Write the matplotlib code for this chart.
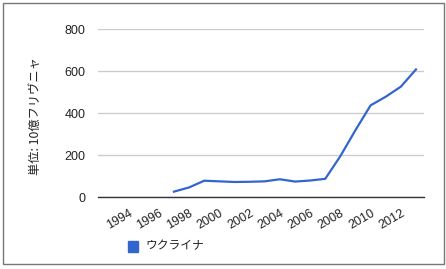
import matplotlib.pyplot as plt
from matplotlib.patches import Rectangle

plt.rcParams['font.family'] = ['Liberation Sans', 'Noto Sans CJK JP', 'DejaVu Sans']

years = [1997, 1998, 1999, 2000, 2001, 2002, 2003, 2004, 2005,
         2006, 2007, 2008, 2009, 2010, 2011, 2012, 2013]
values = [27, 47, 79, 76, 73, 74, 76, 86, 75,
          80, 88, 196, 320, 438, 479, 527, 609]
tick_years = [1994, 1996, 1998, 2000, 2002, 2004, 2006, 2008, 2010, 2012]
y_ticks = [0, 200, 400, 600, 800]
series_name = "ウクライナ"
y_title = "単位: 10億フリヴニャ"

fig = plt.figure(figsize=(4.46, 2.69), dpi=100)
ax = fig.add_axes([0.2204, 0.2665, 0.7303, 0.6245])

ax.plot(years, values, color='#3366cc', lw=1.6, solid_joinstyle='round')

ax.set_xlim(1992.0, 2013.53)
ax.set_ylim(0, 800)
ax.set_yticks(y_ticks)
ax.set_xticks(tick_years)
ax.set_xticklabels([str(y) for y in tick_years], rotation=30, ha='right', va='top',
                   rotation_mode='anchor')
ax.tick_params(axis='both', length=0, labelsize=9, colors='#222222')
ax.tick_params(axis='y', pad=9)
ax.tick_params(axis='x', pad=7)

ax.grid(axis='y', color='#cccccc', lw=1)
ax.set_axisbelow(True)
for s in ['top', 'right', 'left']:
    ax.spines[s].set_visible(False)
ax.spines['bottom'].set_color('#333333')
ax.spines['bottom'].set_linewidth(1)

fig.text(0.08, 0.57, y_title, rotation=90, ha='center', va='center',
         fontsize=8.8, color='#222222', style='italic',
         family=['Noto Sans CJK JP', 'DejaVu Sans'])

# legend
fig.patches.append(Rectangle((127.7 / 446, 1 - 251.7 / 269), 10.6 / 446, 11 / 269,
                             transform=fig.transFigure, color='#3366cc', figure=fig))
fig.text(145 / 446, 1 - 246 / 269, series_name, ha='left', va='center', fontsize=8.5,
         color='#222222', family=['Noto Sans CJK JP', 'DejaVu Sans'])

# outer frame
fig.patches.append(Rectangle((3.3 / 446, 1 - 263.7 / 269), 441 / 446, 261 / 269,
                             transform=fig.transFigure, fill=False, ec='#777777', lw=1,
                             figure=fig))

fig.savefig('out.png', dpi=100)
